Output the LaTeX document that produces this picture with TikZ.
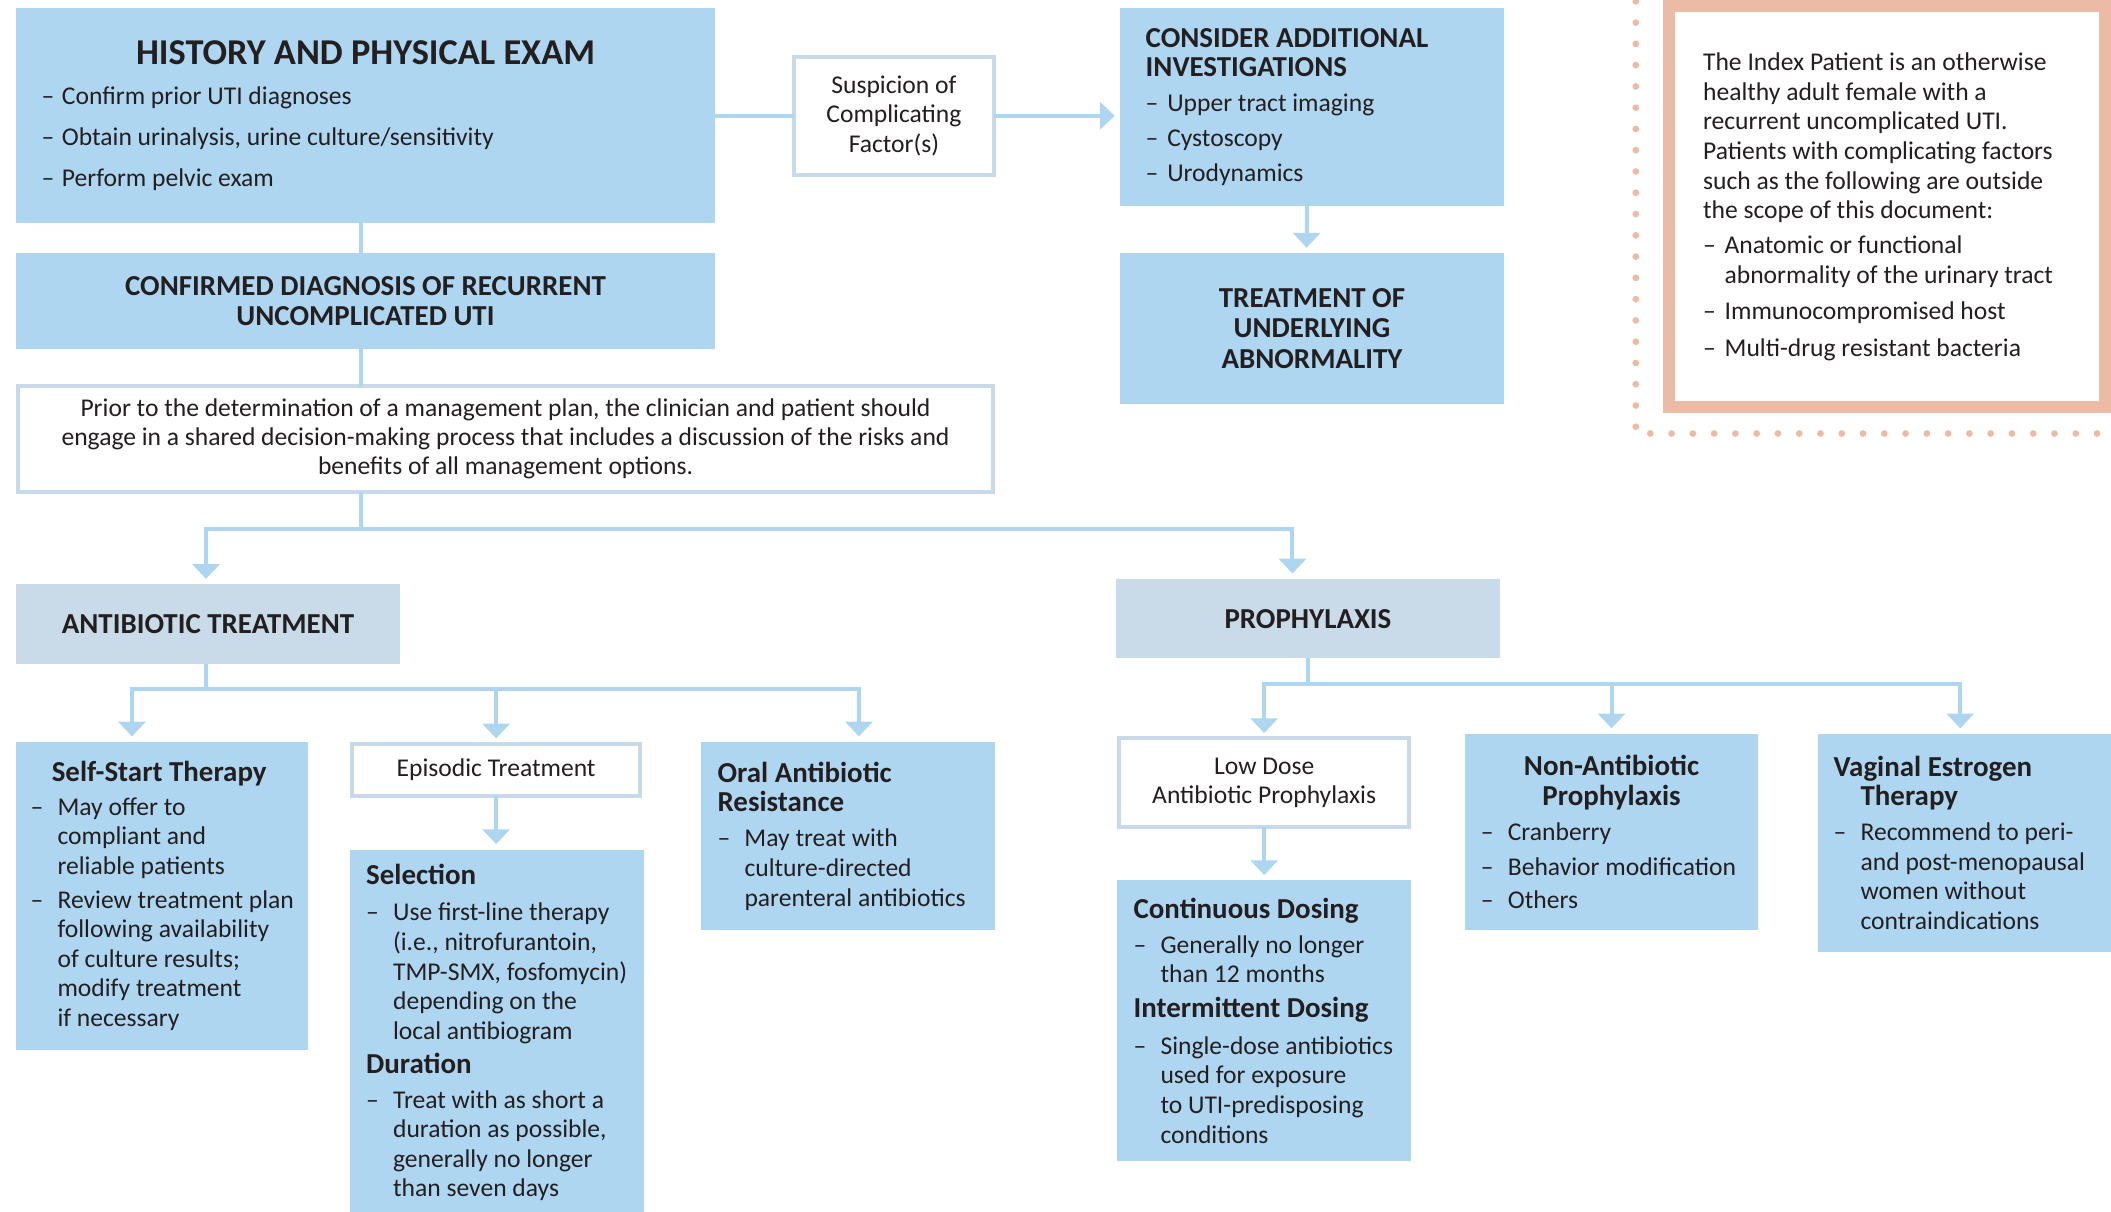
\documentclass[tikz,border=0pt]{standalone}
\usepackage{fontspec}
\setmainfont{Carlito}
\usepackage{tikz}
\usetikzlibrary{arrows.meta}

\definecolor{boxblue}{RGB}{174,214,241}
\definecolor{boxgrey}{RGB}{201,219,232}
\definecolor{edgegrey}{RGB}{200,218,233}
\definecolor{salmon}{RGB}{236,187,165}
\definecolor{inkc}{RGB}{35,31,32}

\newcommand{\itm}[1][20pt]{\makebox[#1][l]{–}}
\newcommand{\indt}[1][20pt]{\hspace*{#1}}
\newcommand{\hd}[1]{{\fontsize{21.5}{22}\selectfont\bfseries #1}}

\begin{document}
\begin{tikzpicture}[x=1pt, y=-1pt,
    every node/.style={anchor=north west, inner sep=0pt, outer sep=0pt, text=inkc,
      font=\fontsize{19}{22}\selectfont},
    bluebox/.style={fill=boxblue, align=left},
    headbox/.style={fill=boxblue, align=center,
      font=\fontsize{21.5}{22.5}\selectfont\bfseries},
    greybox/.style={fill=boxgrey, align=center,
      font=\fontsize{21.5}{22}\selectfont\bfseries},
    whitebox/.style={fill=white, draw=edgegrey, line width=3pt, align=center},
    link/.style={draw=boxblue, line width=3pt},
    arr/.style={link, -{Triangle[width=20pt,length=11pt]}, shorten >=4pt}]
  \useasboundingbox (0,0) rectangle (1568,900);
  \clip (0,0) rectangle (1568,900);

  \node[bluebox, minimum width=519pt, minimum height=160pt] (hist) at (12,6)
    {\makebox[481pt][c]{\fontsize{27}{30}\selectfont\bfseries HISTORY AND PHYSICAL EXAM}\\[8pt]
     \itm[15pt]Confirm prior UTI diagnoses\\[8.5pt]
     \itm[15pt]Obtain urinalysis, urine culture/sensitivity\\[8.5pt]
     \itm[15pt]Perform pelvic exam};
  \node[whitebox, minimum width=148pt, minimum height=88pt] (susp) at (590,42)
    {Suspicion of\\Complicating\\Factor(s)};
  \node[bluebox, minimum width=285pt, minimum height=147pt] (consider) at (832,6)
    {\makebox[247pt][l]{\hd{CONSIDER ADDITIONAL}}\\
     \hd{INVESTIGATIONS}\\[4pt]
     \itm[16pt]Upper tract imaging\\[4pt]
     \itm[16pt]Cystoscopy\\[4pt]
     \itm[16pt]Urodynamics};
  \node[headbox, minimum width=285pt, minimum height=112pt] (treat) at (832,188)
    {TREATMENT OF\\UNDERLYING\\ABNORMALITY};
  \node[headbox, minimum width=519pt, minimum height=71pt] (confirmed) at (12,188)
    {CONFIRMED DIAGNOSIS OF RECURRENT\\UNCOMPLICATED UTI};
  \node[whitebox, font=\fontsize{19}{21.5}\selectfont, minimum width=724pt, minimum height=79pt] (shared) at (13.5,286.5)
    {Prior to the determination of a management plan, the clinician and patient should\\
     engage in a shared decision-making process that includes a discussion of the risks and\\
     benefits of all management options.};

  \node[fill=white, draw=salmon, line width=9pt, align=left, minimum width=324pt, minimum height=298pt] (index) at (1239.5,4.5)
    {\makebox[273pt][l]{The Index Patient is an otherwise}\\
     healthy adult female with a\\
     recurrent uncomplicated UTI.\\
     Patients with complicating factors\\
     such as the following are outside\\
     the scope of this document:\\[4pt]
     \itm[16pt]Anatomic or functional\\
     \indt[16pt]abnormality of the urinary tract\\[5pt]
     \itm[16pt]Immunocompromised host\\[5pt]
     \itm[16pt]Multi-drug resistant bacteria};
  \draw[salmon, line width=5pt, line cap=round, dash pattern=on 0pt off 15.8pt]
    (1215,1) -- (1215,322) -- (1570,322);

  \node[greybox, minimum width=285pt, minimum height=59pt] (antib) at (12,434) {ANTIBIOTIC TREATMENT};
  \node[greybox, minimum width=285pt, minimum height=59pt] (proph) at (829,430) {PROPHYLAXIS};

  \node[bluebox, minimum width=217pt, minimum height=229pt] (selfstart) at (12,551)
    {\makebox[191pt][c]{\hd{Self-Start Therapy}}\\[3pt]
     \itm May offer to\\
     \indt compliant and\\
     \indt reliable patients\\[3pt]
     \itm Review treatment plan\\
     \indt following availability\\
     \indt of culture results;\\
     \indt modify treatment\\
     \indt if necessary};
  \node[whitebox, minimum width=214pt, minimum height=39pt] (episodic) at (261.5,552.5) {Episodic Treatment};
  \node[bluebox, minimum width=218pt, minimum height=272pt] (selection) at (260,631)
    {\makebox[194pt][l]{\hd{Selection}}\\[5pt]
     \itm Use first-line therapy\\
     \indt (i.e., nitrofurantoin,\\
     \indt TMP-SMX, fosfomycin)\\
     \indt depending on the\\
     \indt local antibiogram\\[3pt]
     \hd{Duration}\\[4pt]
     \itm Treat with as short a\\
     \indt duration as possible,\\
     \indt generally no longer\\
     \indt than seven days};
  \node[bluebox, minimum width=218pt, minimum height=140pt] (oral) at (521,551)
    {\makebox[194pt][l]{\hd{Oral Antibiotic}}\\
     \hd{Resistance}\\[4pt]
     \itm May treat with\\
     \indt culture-directed\\
     \indt parenteral antibiotics};

  \node[whitebox, minimum width=215pt, minimum height=66pt] (lowdose) at (831.5,548.5)
    {Low Dose\\Antibiotic Prophylaxis};
  \node[bluebox, minimum width=218pt, minimum height=208pt] (contdose) at (830,654)
    {\makebox[194pt][l]{\hd{Continuous Dosing}}\\[4pt]
     \itm Generally no longer\\
     \indt than 12 months\\[4pt]
     \hd{Intermittent Dosing}\\[5pt]
     \itm Single-dose antibiotics\\
     \indt used for exposure\\
     \indt to UTI-predisposing\\
     \indt conditions};
  \node[bluebox, minimum width=218pt, minimum height=146pt] (nonab) at (1088,545)
    {\makebox[194pt][c]{\hd{Non-Antibiotic}}\\
     \makebox[194pt][c]{\hd{Prophylaxis}}\\[4pt]
     \itm Cranberry\\[4pt]
     \itm Behavior modification\\[3pt]
     \itm Others};
  \node[bluebox, minimum width=218pt, minimum height=162pt] (vaginal) at (1350,545)
    {\makebox[194pt][l]{\hd{Vaginal Estrogen}}\\
     \indt\hd{Therapy}\\[4pt]
     \itm Recommend to peri-\\
     \indt and post-menopausal\\
     \indt women without\\
     \indt contraindications};

  \draw[link] (hist.east) -- (susp.west);
  \draw[arr] (susp.east) -- (susp.east -| consider.west);
  \draw[arr] ([xshift=-4pt]consider.south) -- ([xshift=-4pt]treat.north);
  \draw[link] ([xshift=-3.5pt]hist.south) -- ([xshift=-3.5pt]confirmed.north);
  \draw[link] ([xshift=-3.5pt]confirmed.south) -- ([xshift=-3.5pt]confirmed.south |- shared.north);

  \coordinate (split) at (268,393);
  \draw[link] (shared.south -| split) -- (split);
  \draw[arr] (split) -| ([xshift=-1.5pt]antib.north);
  \draw[arr] (split) -| ([xshift=-11.5pt]proph.north);

  \draw[link] ([xshift=-1.5pt]antib.south) -- ++(0,19) coordinate (abus);
  \draw[arr] (abus) -| ([xshift=-22.5pt]selfstart.north);
  \draw[arr] (abus) -| (episodic.north);
  \draw[arr] (abus) -| ([xshift=8pt]oral.north);
  \draw[arr] (episodic.south) -- (episodic.south |- selection.north);

  \draw[link] (proph.south) -- ++(0,19) coordinate (pbus);
  \draw[arr] (pbus) -| (lowdose.north);
  \draw[arr] (pbus) -| (nonab.north);
  \draw[arr] (pbus) -| ([xshift=-3pt]vaginal.north);
  \draw[arr] (lowdose.south) -- (lowdose.south |- contdose.north);
\end{tikzpicture}
\end{document}
